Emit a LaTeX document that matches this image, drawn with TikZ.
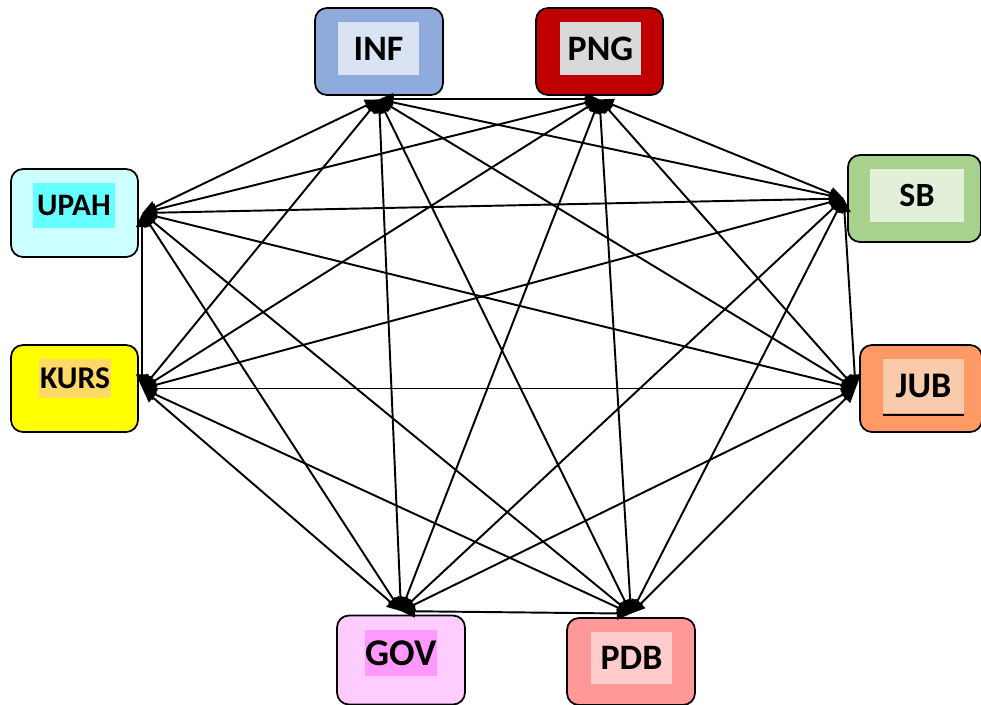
\documentclass[tikz,border=0pt]{standalone}
\usepackage{fontspec}
\setmainfont{Carlito}
\usetikzlibrary{arrows.meta}

\definecolor{infout}{HTML}{8FAADC}
\definecolor{infin}{HTML}{DAE3F3}
\definecolor{pngout}{HTML}{C00000}
\definecolor{pngin}{HTML}{D9D9D9}
\definecolor{sbout}{HTML}{A9D18E}
\definecolor{sbin}{HTML}{E2F0D9}
\definecolor{jubout}{HTML}{FF9A66}
\definecolor{jubin}{HTML}{F8CBAD}
\definecolor{pdbout}{HTML}{FF9999}
\definecolor{pdbin}{HTML}{FFCCCC}
\definecolor{govout}{HTML}{FFCCFF}
\definecolor{govin}{HTML}{FF99FF}
\definecolor{kursout}{HTML}{FFFF00}
\definecolor{kursin}{HTML}{FFD966}
\definecolor{upahout}{HTML}{CCFFFF}
\definecolor{upahin}{HTML}{66FFFF}

\begin{document}
\begin{tikzpicture}[x=0.02cm,y=-0.02cm,
    box/.style={draw,line width=1pt,rounded corners=0.24cm,inner sep=0pt,outer sep=2.5pt},
    tag/.style={inner sep=0pt,font=\bfseries},
    link/.style={{Triangle[length=8pt,width=7pt]}-{Triangle[length=8pt,width=7pt]},line width=1.1pt}]
      \useasboundingbox (0,0) rectangle (981,704);
      % name / box x / box y / box w / box h / colour / tag x / tag y / tag w / tag h / font size
      \def \Nodes {
        INF/379/51.5/128/87/inf/378.5/48.5/81/53/20.4pt,
        PNG/599.5/51.5/127/87/png/600.5/48.5/81/53/20.4pt,
        SB/914.5/198.5/133/87/sb/917/195.5/94/53/19.3pt,
        JUB/921/388.5/122/87/jub/923.5/386/81/54/20.5pt,
        PDB/631/661.5/128/87/pdb/631.5/658/81/52/20.4pt,
        GOV/401/660/128/89/gov/401/653/72/46/21.5pt,
        KURS/74.5/388.5/127/87/kurs/75/378.5/72/39/18pt,
        UPAH/74.5/213/127/88/upah/74/205.5/82/45/17.8pt}
      \def \Edges {
        INF.south/PNG.south, INF.south/SB.west, INF.south/JUB.west,
        INF.south/PDB.north, INF.south/GOV.north, INF.south/KURS.east,
        INF.south/UPAH.east,
        PNG.south/SB.west, PNG.south/JUB.west, PNG.south/PDB.north,
        PNG.south/GOV.north, PNG.south/KURS.east, PNG.south/UPAH.east,
        SB.west/JUB.west, SB.west/PDB.north, SB.west/GOV.north,
        SB.west/KURS.east, SB.west/UPAH.east,
        JUB.west/PDB.north, JUB.west/GOV.north, JUB.west/KURS.east,
        JUB.west/UPAH.east,
        PDB.north/GOV.north, PDB.north/KURS.east, PDB.north/UPAH.east,
        GOV.north/KURS.east, GOV.north/UPAH.east,
        KURS.east/UPAH.east}

      \foreach \id / \x / \y / \w / \h / \col / \tx / \ty / \tw / \th / \fs in \Nodes {
        \node[box,fill=\col out,minimum width=\w*0.02cm,minimum height=\h*0.02cm] (\id) at (\x, \y) {};
        \node[tag,fill=\col in,minimum width=\tw*0.02cm,minimum height=\th*0.02cm,
          font=\bfseries\fontsize{\fs}{\fs}\selectfont] (\id-t) at (\tx, \ty) {\id};
      }
      \draw[line width=1pt] ([yshift=-1pt]JUB-t.south west) -- ([yshift=-1pt]JUB-t.south east);

      \foreach \a / \b in \Edges {
        \path[draw,link] (\a) -- (\b);
      }
\end{tikzpicture}
\end{document}
